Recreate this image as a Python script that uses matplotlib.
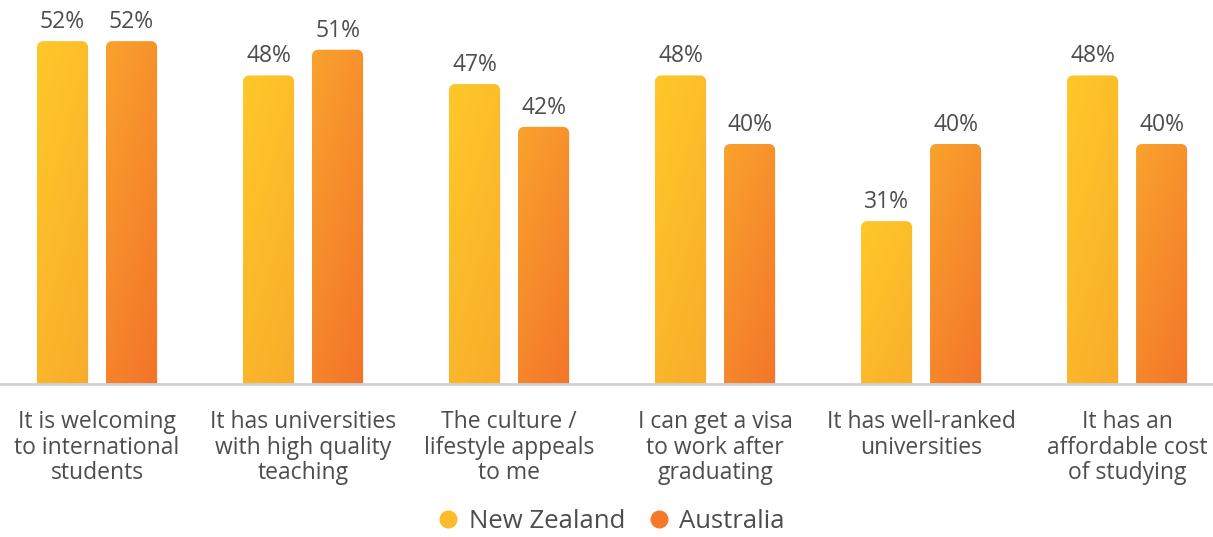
import numpy as np
import matplotlib.pyplot as plt
from matplotlib.path import Path
from matplotlib.patches import PathPatch
from matplotlib.lines import Line2D
from matplotlib.colors import LinearSegmentedColormap

plt.rcParams['font.family'] = ['Open Sans', 'DejaVu Sans']

# Survey data
categories = [
    'It is welcoming\nto international\nstudents',
    'It has universities\nwith high quality\nteaching',
    'The culture /\nlifestyle appeals\nto me',
    'I can get a visa\nto work after\ngraduating',
    'It has well-ranked\nuniversities',
    'It has an\naffordable cost\nof studying',
]
new_zealand = [52, 48, 47, 48, 31, 48]
australia = [52, 51, 42, 40, 40, 40]
series_names = ['New Zealand', 'Australia']

nz_cmap = LinearSegmentedColormap.from_list('nz', ['#FFC829', '#F7A62C'])
au_cmap = LinearSegmentedColormap.from_list('au', ['#F9A22D', '#F26A29'])
text_col = '#4d4d4d'

fig = plt.figure(figsize=(12.13, 5.37), dpi=100)
ax = fig.add_axes([0, 153 / 537, 1, 384 / 537])
ax.set_xlim(-0.471, 5.417)
ax.set_ylim(12, 56.8)
for s in ax.spines.values():
    s.set_visible(False)
ax.set_yticks([])
ax.axhline(12, color='#d0d0d0', lw=2, zorder=5, clip_on=False)

bar_w = 0.248
offset = 0.1675
x = np.arange(len(categories))

# size of one pixel in data units, used for the rounded corners
fig.canvas.draw()
p0 = ax.transData.inverted().transform((0, 0))
p1 = ax.transData.inverted().transform((6, 6))
rx, ry = p1[0] - p0[0], p1[1] - p0[1]


def rounded_bar(x0, w, top, bottom=0):
    ang = np.linspace(0, np.pi / 2, 12)
    # right top corner then left top corner
    right = [(x0 + w - rx + rx * np.cos(a), top - ry + ry * np.sin(a)) for a in ang]
    left = [(x0 + rx - rx * np.cos(a), top - ry + ry * np.sin(a)) for a in ang[::-1]]
    verts = [(x0, bottom), (x0 + w, bottom)] + right + left + [(x0, bottom)]
    return Path(verts)


gy, gx = np.mgrid[0:1:200j, 0:1:50j]
grad = 0.3 * gx + 0.7 * gy

for vals, sign, cmap in [(new_zealand, -1, nz_cmap), (australia, 1, au_cmap)]:
    for xi, v in zip(x, vals):
        x0 = xi + sign * offset - bar_w / 2
        patch = PathPatch(rounded_bar(x0, bar_w, v), facecolor='none', edgecolor='none')
        ax.add_patch(patch)
        im = ax.imshow(grad, cmap=cmap, extent=(x0, x0 + bar_w, 0, v), origin='upper',
                       aspect='auto', interpolation='bilinear', zorder=2)
        im.set_clip_path(patch)
        ax.annotate(f'{v}%', (xi + sign * offset, v), xytext=(0, 5), textcoords='offset points',
                    ha='center', va='bottom', fontsize=16.5, color=text_col)

ax.set_xlim(-0.471, 5.417)
ax.set_ylim(12, 56.8)
ax.set_xticks(x)
ax.set_xticklabels(categories, fontsize=16.5, color=text_col, linespacing=1.08)
ax.tick_params(axis='x', length=0, pad=19)

handles = [Line2D([], [], marker='o', ls='none', ms=12, color=c) for c in ['#FDBB2A', '#F47A2A']]
fig.legend(handles, series_names, loc='center', bbox_to_anchor=(0.504, 1 - 521 / 537), ncol=2,
           frameon=False, fontsize=18.5, labelcolor=text_col, handlelength=0.8,
           handletextpad=0.4, columnspacing=0.9)

fig.savefig('out.png', dpi=100)
